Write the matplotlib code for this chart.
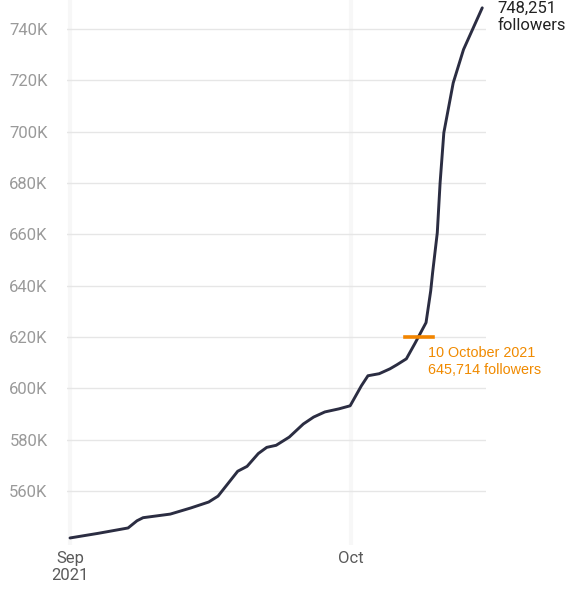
import pandas as pd
import matplotlib.pyplot as plt
import matplotlib.dates as mdates
from matplotlib.ticker import FuncFormatter

# days since 1 Sep 2021 and follower counts (thousands)
days = [0, 3, 6.2, 7.15, 7.8, 10.7, 12.9, 14.8, 15.8, 17.9, 18.9, 20.1, 21.0,
        22.0, 23.4, 24.9, 26.0, 27.2, 28.7, 29.9, 31.1, 31.8, 33.0, 34.15,
        34.9, 35.9, 36.8, 38.0, 38.5, 38.7, 39.2, 39.5, 39.9, 40.9, 42.0, 44.0]
followers = [541.7, 543.5, 545.6, 548.4, 549.6, 551.0, 553.4, 555.7, 558.0,
             567.7, 569.6, 574.6, 577.0, 577.8, 581.0, 586.1, 588.8, 590.8,
             592.0, 593.2, 601.0, 604.9, 605.7, 607.6, 609.2, 611.5, 617.4,
             625.6, 638.0, 645.0, 660.6, 680.0, 699.6, 719.0, 732.0, 748.251]

y_ticks = [560, 580, 600, 620, 640, 660, 680, 700, 720, 740]
x_ticks = ['2021-09-01', '2021-10-01']
x_tick_labels = ['Sep\n2021', 'Oct']

end_label = '748,251\nfollowers'
hover_label = '10 October 2021\n645,714 followers'
hover_level = 620
hover_span = [35.75, 38.75]

start = pd.Timestamp('2021-09-01')
dates = start + pd.to_timedelta(days, unit='D')

fig = plt.figure(figsize=(5.66, 5.9), dpi=100)
ax = fig.add_axes([67 / 566, 1 - 545 / 590, 419 / 566, 545 / 590])

ax.plot(dates, followers, color='#2b2d42', lw=2.1, solid_capstyle='round',
        solid_joinstyle='round', zorder=3)

# hover highlight
hs = start + pd.to_timedelta(hover_span, unit='D')
ax.plot(hs, [hover_level, hover_level], color='#f28500', lw=2.6, zorder=4)
ax.text(start + pd.Timedelta(days=38.2), 616.6, hover_label, color='#f08a00',
        fontsize=10.4, family='Liberation Sans', va='top', ha='left',
        linespacing=1.3)

ax.text(start + pd.Timedelta(days=45.6), 751.0, end_label, color='#222222',
        fontsize=12, family='Roboto', va='top', ha='left', linespacing=1.15,
        clip_on=False)

ax.set_xlim(start - pd.Timedelta(days=0.32), start + pd.Timedelta(days=44.4))
ax.set_ylim(538.96, 751.3)

ax.set_yticks(y_ticks)
ax.yaxis.set_major_formatter(FuncFormatter(lambda v, p: '%dK' % v))
ax.set_xticks(pd.to_datetime(x_ticks))
ax.set_xticklabels(x_tick_labels)

for s in ax.spines.values():
    s.set_visible(False)
ax.tick_params(axis='y', length=0, pad=14, labelsize=12, labelcolor='#9a9a9a')
ax.tick_params(axis='x', length=0, pad=4, labelsize=12, labelcolor='#5a5a5a')
for lab in ax.get_xticklabels() + ax.get_yticklabels():
    lab.set_family('Roboto')

ax.grid(axis='y', color='#e6e6e6', lw=1)
ax.grid(axis='x', color='#f7f7f7', lw=3)
ax.set_axisbelow(True)

plt.savefig('out.png', dpi=100)
